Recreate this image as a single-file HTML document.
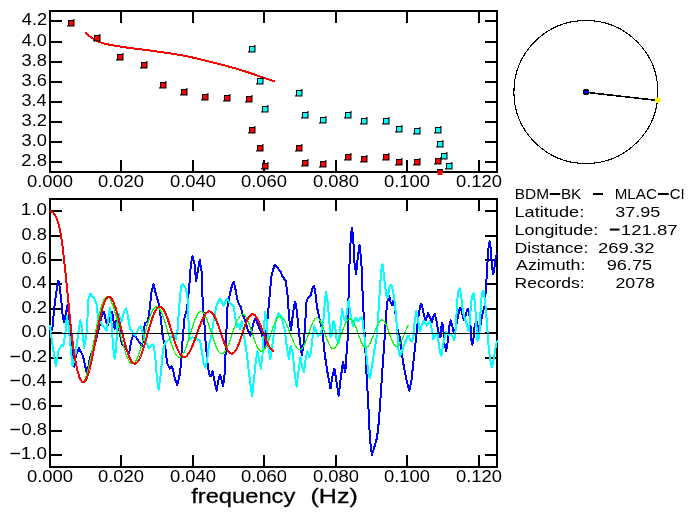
<!DOCTYPE html>
<html><head><meta charset="utf-8"><title>plot</title>
<style>html,body{margin:0;padding:0;background:#fff;overflow:hidden}svg{display:block;will-change:transform}</style>
</head><body>
<svg width="693" height="519" viewBox="0 0 693 519" font-family="'Liberation Sans', sans-serif" fill="#000">
<rect width="693" height="519" fill="#fff"/>
<rect x="49" y="10" width="449" height="2" fill="#000"/>
<rect x="49" y="171" width="449" height="2" fill="#000"/>
<rect x="49" y="10" width="2" height="163" fill="#000"/>
<rect x="496" y="10" width="2" height="163" fill="#000"/>
<rect x="120" y="12" width="2" height="11" fill="#000"/>
<rect x="120" y="160" width="2" height="11" fill="#000"/>
<rect x="192" y="12" width="2" height="11" fill="#000"/>
<rect x="192" y="160" width="2" height="11" fill="#000"/>
<rect x="263" y="12" width="2" height="11" fill="#000"/>
<rect x="263" y="160" width="2" height="11" fill="#000"/>
<rect x="335" y="12" width="2" height="11" fill="#000"/>
<rect x="335" y="160" width="2" height="11" fill="#000"/>
<rect x="406" y="12" width="2" height="11" fill="#000"/>
<rect x="406" y="160" width="2" height="11" fill="#000"/>
<rect x="478" y="12" width="2" height="11" fill="#000"/>
<rect x="478" y="160" width="2" height="11" fill="#000"/>
<rect x="51" y="20" width="11" height="2" fill="#000"/>
<rect x="485" y="20" width="11" height="2" fill="#000"/>
<rect x="51" y="41" width="11" height="2" fill="#000"/>
<rect x="485" y="41" width="11" height="2" fill="#000"/>
<rect x="51" y="61" width="11" height="2" fill="#000"/>
<rect x="485" y="61" width="11" height="2" fill="#000"/>
<rect x="51" y="81" width="11" height="2" fill="#000"/>
<rect x="485" y="81" width="11" height="2" fill="#000"/>
<rect x="51" y="101" width="11" height="2" fill="#000"/>
<rect x="485" y="101" width="11" height="2" fill="#000"/>
<rect x="51" y="121" width="11" height="2" fill="#000"/>
<rect x="485" y="121" width="11" height="2" fill="#000"/>
<rect x="51" y="141" width="11" height="2" fill="#000"/>
<rect x="485" y="141" width="11" height="2" fill="#000"/>
<rect x="51" y="161" width="11" height="2" fill="#000"/>
<rect x="485" y="161" width="11" height="2" fill="#000"/>
<rect x="49" y="198" width="449" height="2" fill="#000"/>
<rect x="49" y="466" width="449" height="2" fill="#000"/>
<rect x="49" y="198" width="2" height="270" fill="#000"/>
<rect x="496" y="198" width="2" height="270" fill="#000"/>
<rect x="120" y="200" width="2" height="11" fill="#000"/>
<rect x="120" y="455" width="2" height="11" fill="#000"/>
<rect x="192" y="200" width="2" height="11" fill="#000"/>
<rect x="192" y="455" width="2" height="11" fill="#000"/>
<rect x="263" y="200" width="2" height="11" fill="#000"/>
<rect x="263" y="455" width="2" height="11" fill="#000"/>
<rect x="335" y="200" width="2" height="11" fill="#000"/>
<rect x="335" y="455" width="2" height="11" fill="#000"/>
<rect x="406" y="200" width="2" height="11" fill="#000"/>
<rect x="406" y="455" width="2" height="11" fill="#000"/>
<rect x="478" y="200" width="2" height="11" fill="#000"/>
<rect x="478" y="455" width="2" height="11" fill="#000"/>
<rect x="51" y="210" width="11" height="2" fill="#000"/>
<rect x="485" y="210" width="11" height="2" fill="#000"/>
<rect x="51" y="235" width="11" height="2" fill="#000"/>
<rect x="485" y="235" width="11" height="2" fill="#000"/>
<rect x="51" y="259" width="11" height="2" fill="#000"/>
<rect x="485" y="259" width="11" height="2" fill="#000"/>
<rect x="51" y="283" width="11" height="2" fill="#000"/>
<rect x="485" y="283" width="11" height="2" fill="#000"/>
<rect x="51" y="308" width="11" height="2" fill="#000"/>
<rect x="485" y="308" width="11" height="2" fill="#000"/>
<rect x="51" y="332" width="11" height="2" fill="#000"/>
<rect x="485" y="332" width="11" height="2" fill="#000"/>
<rect x="51" y="357" width="11" height="2" fill="#000"/>
<rect x="485" y="357" width="11" height="2" fill="#000"/>
<rect x="51" y="381" width="11" height="2" fill="#000"/>
<rect x="485" y="381" width="11" height="2" fill="#000"/>
<rect x="51" y="405" width="11" height="2" fill="#000"/>
<rect x="485" y="405" width="11" height="2" fill="#000"/>
<rect x="51" y="430" width="11" height="2" fill="#000"/>
<rect x="485" y="430" width="11" height="2" fill="#000"/>
<rect x="51" y="454" width="11" height="2" fill="#000"/>
<rect x="485" y="454" width="11" height="2" fill="#000"/>
<polyline points="50.0,332.0 52.3,330.0 54.0,310.5 55.8,295.4 58.3,280.6 59.8,287.3 61.2,300.0 62.7,316.2 64.1,322.6 65.6,315.1 67.6,304.7 69.0,316.0 70.8,331.6 72.5,354.7 74.3,366.8 76.0,354.7 78.9,348.3 82.9,355.8 87.0,374.3 89.9,358.2 91.6,352.4 96.2,339.7 99.7,324.6 101.5,317.0 104.0,311.5 105.5,319.0 107.4,326.6 110.0,318.0 112.2,311.5 113.3,320.0 114.7,328.6 116.9,318.4 118.2,324.0 119.5,330.5 120.9,340.0 122.2,344.3 126.5,349.5 129.1,353.0 131.2,340.8 133.4,333.9 136.0,337.3 139.5,342.5 142.1,346.0 143.6,334.0 144.8,323.2 147.6,321.6 148.9,315.0 150.4,302.0 151.4,292.5 153.4,283.9 156.0,294.3 158.6,303.0 160.8,318.0 162.8,337.3 165.4,347.7 167.1,363.4 169.7,368.6 171.5,366.0 173.2,370.3 174.9,379.0 177.2,385.0 179.3,377.2 180.7,366.8 181.4,354.7 182.7,338.5 184.5,317.6 187.1,309.0 189.7,281.2 190.9,263.9 192.6,256.1 194.5,263.9 196.1,281.2 197.8,270.8 199.7,259.5 201.5,270.8 202.7,302.0 204.4,323.0 205.3,338.5 206.7,354.7 207.9,366.8 209.6,375.5 210.8,376.4 212.6,371.2 214.0,379.0 216.6,390.7 218.3,380.7 220.0,374.6 221.8,380.7 223.1,385.9 224.4,377.2 225.2,363.4 226.1,338.5 227.5,307.2 229.6,295.1 232.2,284.7 233.9,282.1 235.6,289.9 237.9,302.0 240.8,307.2 242.6,314.2 245.2,321.1 247.8,329.8 250.4,335.8 253.0,324.6 255.2,318.5 257.3,322.8 260.8,331.5 263.4,340.0 264.2,347.7 266.0,335.0 267.5,319.4 269.0,302.0 271.5,276.0 274.5,264.7 277.1,267.3 280.6,271.7 282.3,276.0 285.8,281.2 287.5,295.1 289.3,319.4 291.0,330.6 292.7,315.9 294.8,301.7 296.2,305.5 297.9,322.0 299.7,338.5 301.8,355.5 304.0,340.4 305.4,319.7 306.6,300.3 308.3,297.7 310.4,296.0 312.2,289.0 313.9,285.5 315.3,291.6 317.0,307.2 319.6,319.4 321.4,326.3 323.1,338.5 324.8,354.7 327.4,372.0 330.5,388.5 332.6,375.5 334.4,368.6 336.1,379.0 338.7,395.9 340.4,380.7 343.0,361.6 345.3,372.0 346.5,354.7 347.7,338.5 348.4,302.0 349.3,268.0 350.9,234.7 352.1,227.7 353.3,239.9 354.7,265.9 356.1,273.7 357.8,257.2 359.5,245.1 361.3,260.7 362.3,287.0 363.5,312.0 364.7,336.0 366.4,372.0 368.2,402.0 369.4,428.1 370.6,445.5 372.0,455.0 373.8,449.0 376.4,440.3 378.1,429.9 379.6,410.5 381.1,389.4 382.8,363.4 384.5,340.4 385.8,319.7 387.1,302.0 389.2,296.0 390.6,302.0 392.0,305.5 393.2,301.2 394.4,305.5 396.2,319.4 397.9,331.5 400.1,338.0 402.7,359.9 406.2,379.0 409.3,390.7 411.4,380.7 413.1,365.1 415.2,346.0 417.0,328.0 418.7,314.2 420.4,305.5 421.5,303.8 422.7,309.0 424.2,316.0 425.7,320.0 427.0,316.0 428.2,313.2 430.0,317.6 432.0,322.0 433.4,317.0 434.8,313.8 436.6,321.1 438.3,331.5 440.5,337.3 441.5,326.0 442.3,322.5 443.3,329.0 444.5,344.0 446.2,351.0 447.6,342.0 448.7,331.6 449.8,323.5 450.8,320.3 452.1,325.0 453.3,331.0 454.6,334.5 455.6,328.0 457.3,319.7 459.1,310.5 460.4,307.8 462.0,312.6 463.7,319.6 465.4,316.0 467.2,309.9 468.3,308.8 469.5,315.5 470.5,326.0 471.2,339.0 472.4,344.7 473.7,337.0 474.5,327.0 475.3,324.0 476.6,321.0 477.8,330.0 478.5,331.6 479.3,326.0 480.0,329.0 481.0,321.0 482.8,312.8 484.5,305.8 485.3,297.7 486.2,283.9 487.0,272.0 487.6,260.5 488.6,246.6 489.7,241.4 490.9,250.1 492.0,266.2 493.2,274.3 494.6,266.2 495.7,257.0 497.2,253.5" fill="none" stroke="#0000ff" stroke-width="2" stroke-linejoin="round" stroke-linecap="round" shape-rendering="crispEdges"/>
<polyline points="50.0,326.0 51.7,339.7 55.8,366.2 58.7,350.1 61.6,344.9 63.3,346.0 65.6,331.6 66.8,316.2 68.5,325.0 70.2,343.1 72.5,366.2 74.9,358.2 77.7,337.3 80.3,320.3 81.8,325.8 84.1,347.7 87.0,331.0 88.2,300.0 90.5,293.7 94.5,298.9 96.8,304.7 98.0,318.6 100.0,322.0 103.0,326.0 106.5,331.0 108.4,318.0 109.8,307.8 111.3,320.0 113.0,345.0 114.6,358.7 116.1,348.9 117.3,326.0 118.0,313.5 119.0,314.0 121.4,322.3 124.0,312.0 126.2,308.3 128.0,316.0 129.5,326.0 130.5,329.5 132.6,332.1 135.2,335.6 137.8,330.4 140.4,326.1 142.1,330.4 145.6,340.8 149.0,348.6 151.1,346.0 153.4,344.3 155.1,354.7 156.8,377.2 158.6,389.8 161.0,372.0 163.0,350.0 165.2,343.0 169.7,339.1 173.2,334.7 175.8,339.1 177.5,330.0 179.3,305.0 181.0,286.4 182.7,283.8 185.3,287.3 187.1,293.3 188.3,307.2 188.8,339.9 192.3,337.3 196.6,339.1 200.1,340.8 201.8,351.2 203.6,363.4 205.3,367.7 207.0,361.6 208.8,346.0 211.5,335.0 213.5,322.0 216.6,305.5 220.0,298.6 223.5,305.5 227.0,298.6 230.4,303.8 233.9,307.2 235.6,319.4 236.8,327.0 238.2,323.5 240.0,328.7 241.7,321.5 243.4,333.0 244.3,337.3 246.9,354.7 249.5,377.2 252.1,396.3 253.8,380.7 255.6,363.4 257.3,351.2 259.0,359.9 260.8,368.6 262.5,354.7 263.7,333.0 265.1,311.6 266.7,320.0 268.3,346.0 270.3,359.0 272.4,345.0 274.5,330.4 275.8,320.0 278.5,313.3 280.6,315.9 282.5,321.0 284.9,331.0 286.7,346.0 288.9,359.0 290.7,346.0 292.7,352.9 294.5,372.0 296.6,386.8 298.8,368.6 300.5,357.3 302.3,366.8 304.0,372.0 305.7,358.1 307.5,351.2 309.2,357.3 311.0,352.9 312.3,339.0 314.4,326.5 316.2,331.0 317.9,336.2 320.0,335.0 322.4,327.0 323.5,319.4 324.8,302.0 326.0,291.6 327.4,300.3 329.2,319.4 330.5,337.0 331.8,335.6 333.5,321.1 335.2,326.3 336.1,338.5 338.7,342.5 340.4,327.0 342.2,309.0 343.9,319.4 345.6,321.1 347.4,309.0 348.6,300.3 350.0,311.0 351.5,319.5 352.9,325.8 354.3,321.0 355.8,317.7 358.1,321.2 360.0,318.0 361.6,317.2 362.8,321.0 363.8,331.5 364.7,338.5 366.4,354.7 368.2,372.0 369.9,378.1 371.6,368.6 374.2,351.2 376.5,338.5 378.0,319.7 379.6,293.3 381.2,270.8 382.5,263.9 383.8,274.6 384.9,284.0 386.3,295.1 387.5,297.7 389.7,286.4 391.5,284.7 393.2,291.6 394.9,303.8 396.2,318.0 397.4,333.5 398.6,351.2 400.1,356.4 401.9,351.2 404.5,344.3 407.1,337.3 408.8,335.6 410.5,340.8 412.3,341.5 413.6,335.0 414.6,322.0 416.3,310.7 417.8,318.0 419.0,326.0 420.0,331.3 421.8,325.0 423.8,320.7 426.9,325.7 429.4,321.3 431.3,326.3 433.2,338.9 436.3,333.8 437.6,333.0 438.8,344.3 440.1,353.5 441.4,355.8 443.2,345.1 445.7,332.0 447.2,333.5 448.7,335.3 451.0,334.0 452.7,337.3 454.2,340.3 455.5,331.0 456.4,316.2 457.3,299.9 458.5,290.8 459.7,288.5 460.9,293.5 462.1,304.7 463.1,312.9 464.7,318.0 466.2,322.5 467.7,327.5 468.7,331.5 469.8,323.0 470.6,309.0 471.5,300.0 472.6,294.3 473.7,293.5 474.7,301.0 475.8,313.9 476.5,327.0 477.6,340.8 479.1,337.3 479.9,327.0 480.6,310.0 481.3,300.0 482.2,293.1 483.4,290.8 484.5,296.6 485.7,308.2 486.6,319.3 487.5,331.0 488.8,348.9 490.3,360.5 492.0,367.4 493.4,360.5 494.9,351.2 496.4,343.1 497.5,340.8" fill="none" stroke="#00ffff" stroke-width="2" stroke-linejoin="round" stroke-linecap="round" shape-rendering="crispEdges"/>
<polyline points="83.0,382.1 84.0,380.9 85.0,379.1 86.0,376.5 87.0,373.4 88.0,369.7 89.0,365.6 90.0,361.0 91.0,356.2 92.0,351.1 93.0,345.8 94.0,340.5 95.0,335.2 96.0,330.0 97.0,324.9 98.0,320.1 99.0,315.6 100.0,311.5 101.0,307.9 102.0,304.6 103.0,302.0 104.0,299.8 105.0,298.2 106.0,297.3 107.0,296.8 108.0,297.0 109.0,297.8 110.0,299.0 111.0,300.8 112.0,303.1 113.0,305.8 114.0,308.8 115.0,312.2 116.0,315.9 117.0,319.8 118.0,323.8 119.0,327.9 120.0,332.0 121.0,336.1 122.0,340.2 123.0,344.0 124.0,347.7 125.0,351.0 126.0,354.1 127.0,356.8 128.0,359.1 129.0,361.0 130.0,362.4 131.0,363.3 132.0,363.8 133.0,363.7 134.0,363.2 135.0,362.2 136.0,360.7 137.0,358.8 138.0,356.5 139.0,353.8 140.0,350.8 141.0,347.6 142.0,344.1 143.0,340.5 144.0,336.8 145.0,333.1 146.0,329.5 147.0,325.9 148.0,322.5 149.0,319.3 150.0,316.4 151.0,313.8 152.0,311.5 153.0,309.7 154.0,308.3 155.0,307.3 156.0,306.9 157.0,306.9 158.0,307.3 159.0,308.3 160.0,309.7 161.0,311.5 162.0,313.7 163.0,316.3 164.0,319.1 165.0,322.2 166.0,325.5 167.0,328.9 168.0,332.4 169.0,335.9 170.0,339.3 171.0,342.5 172.0,345.6 173.0,348.4 174.0,350.9 175.0,353.0 176.0,354.8 177.0,356.1 178.0,356.9 179.0,357.3 180.0,357.2 181.0,356.7 182.0,355.6 183.0,354.1 184.0,352.3 185.0,350.0 186.0,347.4 187.0,344.5 188.0,341.5 189.0,338.2 190.0,334.9 191.0,331.6 192.0,328.4 193.0,325.2 194.0,322.3 195.0,319.6 196.0,317.2 197.0,315.2 198.0,313.6 199.0,312.4 200.0,311.7 201.0,311.5 202.0,311.7 203.0,312.4 204.0,313.6 205.0,315.2 206.0,317.2 207.0,319.6 208.0,322.3 209.0,325.2 210.0,328.3 211.0,331.4 212.0,334.7 213.0,337.8 214.0,340.8 215.0,343.7 216.0,346.3 217.0,348.5 218.0,350.5 219.0,352.0 220.0,353.0 221.0,353.6 222.0,353.8 223.0,353.4 224.0,352.7 225.0,351.5 226.0,349.9 227.0,348.0 228.0,345.7 229.0,343.2 230.0,340.5 231.0,337.7 232.0,334.7 233.0,331.8 234.0,328.9 235.0,326.1 236.0,323.5 237.0,321.1 238.0,319.0 239.0,317.3 240.0,315.9 241.0,314.9 242.0,314.4 243.0,314.3 244.0,314.8 245.0,315.7 246.0,317.1 247.0,318.8 248.0,321.0 249.0,323.6 250.0,326.3 251.0,329.3 252.0,332.4 253.0,335.5 254.0,338.5 255.0,341.3 256.0,344.0 257.0,346.3 258.0,348.2 259.0,349.7 260.0,350.8 261.0,351.3 262.0,351.4 263.0,350.9 264.0,350.0 265.0,348.6 266.0,346.8 267.0,344.6 268.0,342.1 269.0,339.3 270.0,336.4 271.0,333.5 272.0,330.5 273.0,327.7 274.0,325.0 275.0,322.6 276.0,320.5 277.0,318.8 278.0,317.5 279.0,316.7 280.0,316.3 281.0,316.4 282.0,316.9 283.0,317.9 284.0,319.3 285.0,321.0 286.0,323.0 287.0,325.2 288.0,327.7 289.0,330.2 290.0,332.9 291.0,335.5 292.0,338.1 293.0,340.6 294.0,342.9 295.0,344.9 296.0,346.7 297.0,348.1 298.0,349.1 299.0,349.6 300.0,349.7 301.0,349.3 302.0,348.5 303.0,347.1 304.0,345.4 305.0,343.3 306.0,340.8 307.0,338.1 308.0,335.2 309.0,332.3 310.0,329.4 311.0,326.7 312.0,324.2 313.0,322.0 314.0,320.2 315.0,318.8 316.0,318.0 317.0,317.7 318.0,318.0 319.0,318.9 320.0,320.3 321.0,322.2 322.0,324.5 323.0,327.2 324.0,330.1 325.0,333.2 326.0,336.2 327.0,339.1 328.0,341.8 329.0,344.1 330.0,346.0 331.0,347.4 332.0,348.2 333.0,348.5 334.0,348.2 335.0,347.4 336.0,346.2 337.0,344.5 338.0,342.4 339.0,340.1 340.0,337.6 341.0,334.9 342.0,332.2 343.0,329.6 344.0,327.1 345.0,324.8 346.0,322.8 347.0,321.1 348.0,319.9 349.0,319.1 350.0,318.9 351.0,319.1 352.0,319.9 353.0,321.2 354.0,323.0 355.0,325.2 356.0,327.7 357.0,330.4 358.0,333.2 359.0,336.1 360.0,338.8 361.0,341.3 362.0,343.4 363.0,345.2 364.0,346.5 365.0,347.2 366.0,347.4 367.0,347.1 368.0,346.3 369.0,345.0 370.0,343.2 371.0,341.2 372.0,338.8 373.0,336.3 374.0,333.6 375.0,331.0 376.0,328.4 377.0,326.0 378.0,323.9 379.0,322.2 380.0,320.9 381.0,320.1 382.0,319.8 383.0,320.1 384.0,320.9 385.0,322.4 386.0,324.3 387.0,326.7 388.0,329.4 389.0,332.3 390.0,335.2 391.0,338.0 392.0,340.6 393.0,342.8 394.0,344.6 395.0,345.8 396.0,346.5 397.0,346.6 398.0,346.1 399.0,345.2 400.0,343.8 401.0,342.0 402.0,339.9 403.0,337.5 404.0,335.1 405.0,332.6 406.0,330.1 407.0,327.8 408.0,325.7" fill="none" stroke="#00ff00" stroke-width="1.2" stroke-linejoin="round" stroke-linecap="round" shape-rendering="crispEdges"/>
<polyline points="50.5,211.5 51.5,211.6 52.5,212.1 53.5,212.9 54.5,214.2 55.5,215.9 56.5,218.1 57.5,220.8 58.5,224.1 59.5,228.0 60.5,232.7 61.5,238.6 62.5,246.0 63.5,254.5 64.5,263.8 65.5,273.2 66.5,282.8 67.5,292.8 68.5,303.1 69.5,313.7 70.5,324.0 71.5,333.3 72.5,341.5 73.5,348.8 74.5,355.4 75.5,361.2 76.5,366.3 77.5,370.7 78.5,374.3 79.5,377.3 80.5,379.6 81.5,381.2 82.5,382.1 83.5,382.4 84.5,381.9 85.5,380.6 86.5,378.7 87.5,376.2 88.5,373.1 89.5,369.5 90.5,365.4 91.5,360.9 92.5,356.1 93.5,351.0 94.5,345.9 95.5,340.6 96.5,335.3 97.5,330.2 98.5,325.1 99.5,320.4 100.5,315.9 101.5,311.8 102.5,308.1 103.5,304.9 104.5,302.2 105.5,300.0 106.5,298.3 107.5,297.3 108.5,296.8 109.5,296.8 110.5,297.4 111.5,298.5 112.5,300.2 113.5,302.2 114.5,304.7 115.5,307.6 116.5,310.8 117.5,314.3 118.5,318.0 119.5,321.8 120.5,325.8 121.5,329.8 122.5,333.9 123.5,337.8 124.5,341.7 125.5,345.3 126.5,348.8 127.5,352.0 128.5,354.8 129.5,357.3 130.5,359.5 131.5,361.2 132.5,362.5 133.5,363.3 134.5,363.7 135.5,363.6 136.5,363.1 137.5,362.0 138.5,360.6 139.5,358.8 140.5,356.5 141.5,354.0 142.5,351.1 143.5,348.0 144.5,344.7 145.5,341.3 146.5,337.7 147.5,334.1 148.5,330.6 149.5,327.1 150.5,323.7 151.5,320.6 152.5,317.6 153.5,315.0 154.5,312.6 155.5,310.6 156.5,309.0 157.5,307.8 158.5,307.1 159.5,306.7 160.5,306.8 161.5,307.3 162.5,308.3 163.5,309.6 164.5,311.3 165.5,313.4 166.5,315.8 167.5,318.5 168.5,321.4 169.5,324.5 170.5,327.7 171.5,331.0 172.5,334.3 173.5,337.5 174.5,340.7 175.5,343.7 176.5,346.4 177.5,349.0 178.5,351.2 179.5,353.1 180.5,354.7 181.5,355.9 182.5,356.7 183.5,357.2 184.5,357.2 185.5,356.9 186.5,356.2 187.5,355.1 188.5,353.7 189.5,352.1 190.5,350.1 191.5,347.9 192.5,345.6 193.5,343.0 194.5,340.4 195.5,337.6 196.5,334.8 197.5,332.0 198.5,329.3 199.5,326.6 200.5,324.0 201.5,321.6 202.5,319.3 203.5,317.3 204.5,315.5 205.5,314.0 206.5,312.8 207.5,312.0 208.5,311.5 209.5,311.4 210.5,311.6 211.5,312.3 212.5,313.3 213.5,314.7 214.5,316.4 215.5,318.5 216.5,320.8 217.5,323.3 218.5,326.1 219.5,328.9 220.5,331.9 221.5,334.8 222.5,337.8 223.5,340.6 224.5,343.3 225.5,345.7 226.5,347.9 227.5,349.8 228.5,351.4 229.5,352.5 230.5,353.3 231.5,353.7 232.5,353.6 233.5,353.0 234.5,352.1 235.5,350.7 236.5,349.0 237.5,346.9 238.5,344.4 239.5,341.8 240.5,338.9 241.5,336.0 242.5,332.9 243.5,329.9 244.5,327.0 245.5,324.3 246.5,321.8 247.5,319.6 248.5,317.7 249.5,316.2 250.5,315.1 251.5,314.5 252.5,314.2 253.5,314.4 254.5,314.9 255.5,315.9 256.5,317.2 257.5,318.9 258.5,320.9 259.5,323.1 260.5,325.5 261.5,328.1 262.5,330.7 263.5,333.4 264.5,336.0 265.5,338.6 266.5,341.1 267.5,343.4 268.5,345.4 269.5,347.2 270.5,348.7 271.5,349.9 272.5,350.7 273.5,351.2" fill="none" stroke="#ff0000" stroke-width="2" stroke-linejoin="round" stroke-linecap="round" shape-rendering="crispEdges"/>
<rect x="51" y="333" width="445" height="1" fill="#000"/>
<polyline points="85.9,32.9 86.9,33.9 87.9,34.8 88.9,35.6 89.9,36.4 90.9,37.1 91.9,37.8 92.9,38.5 93.9,39.1 94.9,39.6 95.9,40.2 96.9,40.7 97.9,41.2 98.9,41.7 99.9,42.1 100.9,42.5 101.9,42.8 102.9,43.1 103.9,43.4 104.9,43.7 105.9,43.9 106.9,44.2 107.9,44.4 108.9,44.6 109.9,44.8 110.9,45.0 111.9,45.2 112.9,45.4 113.9,45.5 114.9,45.7 115.9,45.9 116.9,46.0 117.9,46.2 118.9,46.4 119.9,46.5 120.9,46.7 121.9,46.8 122.9,47.0 123.9,47.1 124.9,47.3 125.9,47.4 126.9,47.6 127.9,47.7 128.9,47.8 129.9,48.0 130.9,48.1 131.9,48.2 132.9,48.4 133.9,48.5 134.9,48.6 135.9,48.7 136.9,48.9 137.9,49.0 138.9,49.1 139.9,49.3 140.9,49.4 141.9,49.5 142.9,49.6 143.9,49.8 144.9,49.9 145.9,50.0 146.9,50.1 147.9,50.3 148.9,50.4 149.9,50.5 150.9,50.6 151.9,50.8 152.9,50.9 153.9,51.0 154.9,51.2 155.9,51.3 156.9,51.5 157.9,51.6 158.9,51.8 159.9,51.9 160.9,52.1 161.9,52.2 162.9,52.4 163.9,52.5 164.9,52.7 165.9,52.8 166.9,52.9 167.9,53.1 168.9,53.2 169.9,53.4 170.9,53.5 171.9,53.7 172.9,53.8 173.9,54.0 174.9,54.1 175.9,54.3 176.9,54.5 177.9,54.6 178.9,54.8 179.9,55.0 180.9,55.2 181.9,55.4 182.9,55.5 183.9,55.7 184.9,55.9 185.9,56.1 186.9,56.3 187.9,56.5 188.9,56.8 189.9,57.0 190.9,57.2 191.9,57.4 192.9,57.6 193.9,57.8 194.9,58.1 195.9,58.3 196.9,58.5 197.9,58.7 198.9,59.0 199.9,59.2 200.9,59.5 201.9,59.7 202.9,60.0 203.9,60.2 204.9,60.5 205.9,60.7 206.9,61.0 207.9,61.3 208.9,61.5 209.9,61.8 210.9,62.0 211.9,62.3 212.9,62.5 213.9,62.8 214.9,63.0 215.9,63.3 216.9,63.5 217.9,63.8 218.9,64.0 219.9,64.3 220.9,64.5 221.9,64.7 222.9,65.0 223.9,65.2 224.9,65.5 225.9,65.8 226.9,66.0 227.9,66.3 228.9,66.6 229.9,66.8 230.9,67.1 231.9,67.4 232.9,67.7 233.9,68.0 234.9,68.2 235.9,68.5 236.9,68.8 237.9,69.1 238.9,69.4 239.9,69.7 240.9,70.0 241.9,70.4 242.9,70.7 243.9,71.0 244.9,71.3 245.9,71.6 246.9,71.9 247.9,72.3 248.9,72.6 249.9,72.9 250.9,73.3 251.9,73.6 252.9,74.0 253.9,74.3 254.9,74.7 255.9,75.0 256.9,75.4 257.9,75.7 258.9,76.1 259.9,76.5 260.9,76.8 261.9,77.2 262.9,77.5 263.9,77.8 264.9,78.2 265.9,78.5 266.9,78.8 267.9,79.2 268.9,79.5 269.9,79.8 270.9,80.1 271.9,80.4 272.9,80.8 273.9,81.1" fill="none" stroke="#ff0000" stroke-width="2" stroke-linejoin="round" stroke-linecap="round" shape-rendering="crispEdges"/>
<rect x="68" y="20" width="6.5" height="6.5" fill="#000"/>
<rect x="67" y="25.3" width="1" height="1.2" fill="#000"/>
<rect x="73.3" y="19" width="1.2" height="1" fill="#000"/>
<rect x="69" y="21" width="4.4" height="4.4" fill="#ff0000"/>
<rect x="94" y="35" width="6.5" height="6.5" fill="#000"/>
<rect x="93" y="40.3" width="1" height="1.2" fill="#000"/>
<rect x="99.3" y="34" width="1.2" height="1" fill="#000"/>
<rect x="95" y="36" width="4.4" height="4.4" fill="#ff0000"/>
<rect x="117" y="54" width="6.5" height="6.5" fill="#000"/>
<rect x="116" y="59.3" width="1" height="1.2" fill="#000"/>
<rect x="122.3" y="53" width="1.2" height="1" fill="#000"/>
<rect x="118" y="55" width="4.4" height="4.4" fill="#ff0000"/>
<rect x="141" y="62" width="6.5" height="6.5" fill="#000"/>
<rect x="140" y="67.3" width="1" height="1.2" fill="#000"/>
<rect x="146.3" y="61" width="1.2" height="1" fill="#000"/>
<rect x="142" y="63" width="4.4" height="4.4" fill="#ff0000"/>
<rect x="160" y="82" width="6.5" height="6.5" fill="#000"/>
<rect x="159" y="87.3" width="1" height="1.2" fill="#000"/>
<rect x="165.3" y="81" width="1.2" height="1" fill="#000"/>
<rect x="161" y="83" width="4.4" height="4.4" fill="#ff0000"/>
<rect x="181" y="89" width="6.5" height="6.5" fill="#000"/>
<rect x="180" y="94.3" width="1" height="1.2" fill="#000"/>
<rect x="186.3" y="88" width="1.2" height="1" fill="#000"/>
<rect x="182" y="90" width="4.4" height="4.4" fill="#ff0000"/>
<rect x="202" y="94" width="6.5" height="6.5" fill="#000"/>
<rect x="201" y="99.3" width="1" height="1.2" fill="#000"/>
<rect x="207.3" y="93" width="1.2" height="1" fill="#000"/>
<rect x="203" y="95" width="4.4" height="4.4" fill="#ff0000"/>
<rect x="224" y="95" width="6.5" height="6.5" fill="#000"/>
<rect x="223" y="100.3" width="1" height="1.2" fill="#000"/>
<rect x="229.3" y="94" width="1.2" height="1" fill="#000"/>
<rect x="225" y="96" width="4.4" height="4.4" fill="#ff0000"/>
<rect x="246" y="96" width="6.5" height="6.5" fill="#000"/>
<rect x="245" y="101.3" width="1" height="1.2" fill="#000"/>
<rect x="251.3" y="95" width="1.2" height="1" fill="#000"/>
<rect x="247" y="97" width="4.4" height="4.4" fill="#ff0000"/>
<rect x="249" y="127" width="6.5" height="6.5" fill="#000"/>
<rect x="248" y="132.3" width="1" height="1.2" fill="#000"/>
<rect x="254.3" y="126" width="1.2" height="1" fill="#000"/>
<rect x="250" y="128" width="4.4" height="4.4" fill="#ff0000"/>
<rect x="257" y="145" width="6.5" height="6.5" fill="#000"/>
<rect x="256" y="150.3" width="1" height="1.2" fill="#000"/>
<rect x="262.3" y="144" width="1.2" height="1" fill="#000"/>
<rect x="258" y="146" width="4.4" height="4.4" fill="#ff0000"/>
<rect x="262" y="163" width="6.5" height="6.5" fill="#000"/>
<rect x="261" y="168.3" width="1" height="1.2" fill="#000"/>
<rect x="267.3" y="162" width="1.2" height="1" fill="#000"/>
<rect x="263" y="164" width="4.4" height="4.4" fill="#ff0000"/>
<rect x="296" y="145" width="6.5" height="6.5" fill="#000"/>
<rect x="295" y="150.3" width="1" height="1.2" fill="#000"/>
<rect x="301.3" y="144" width="1.2" height="1" fill="#000"/>
<rect x="297" y="146" width="4.4" height="4.4" fill="#ff0000"/>
<rect x="302" y="160" width="6.5" height="6.5" fill="#000"/>
<rect x="301" y="165.3" width="1" height="1.2" fill="#000"/>
<rect x="307.3" y="159" width="1.2" height="1" fill="#000"/>
<rect x="303" y="161" width="4.4" height="4.4" fill="#ff0000"/>
<rect x="320" y="161" width="6.5" height="6.5" fill="#000"/>
<rect x="319" y="166.3" width="1" height="1.2" fill="#000"/>
<rect x="325.3" y="160" width="1.2" height="1" fill="#000"/>
<rect x="321" y="162" width="4.4" height="4.4" fill="#ff0000"/>
<rect x="345" y="154" width="6.5" height="6.5" fill="#000"/>
<rect x="344" y="159.3" width="1" height="1.2" fill="#000"/>
<rect x="350.3" y="153" width="1.2" height="1" fill="#000"/>
<rect x="346" y="155" width="4.4" height="4.4" fill="#ff0000"/>
<rect x="361" y="156" width="6.5" height="6.5" fill="#000"/>
<rect x="360" y="161.3" width="1" height="1.2" fill="#000"/>
<rect x="366.3" y="155" width="1.2" height="1" fill="#000"/>
<rect x="362" y="157" width="4.4" height="4.4" fill="#ff0000"/>
<rect x="383" y="154" width="6.5" height="6.5" fill="#000"/>
<rect x="382" y="159.3" width="1" height="1.2" fill="#000"/>
<rect x="388.3" y="153" width="1.2" height="1" fill="#000"/>
<rect x="384" y="155" width="4.4" height="4.4" fill="#ff0000"/>
<rect x="396" y="159" width="6.5" height="6.5" fill="#000"/>
<rect x="395" y="164.3" width="1" height="1.2" fill="#000"/>
<rect x="401.3" y="158" width="1.2" height="1" fill="#000"/>
<rect x="397" y="160" width="4.4" height="4.4" fill="#ff0000"/>
<rect x="414" y="159" width="6.5" height="6.5" fill="#000"/>
<rect x="413" y="164.3" width="1" height="1.2" fill="#000"/>
<rect x="419.3" y="158" width="1.2" height="1" fill="#000"/>
<rect x="415" y="160" width="4.4" height="4.4" fill="#ff0000"/>
<rect x="435" y="158" width="6.5" height="6.5" fill="#000"/>
<rect x="434" y="163.3" width="1" height="1.2" fill="#000"/>
<rect x="440.3" y="157" width="1.2" height="1" fill="#000"/>
<rect x="436" y="159" width="4.4" height="4.4" fill="#ff0000"/>
<rect x="249" y="46" width="6.5" height="6.5" fill="#000"/>
<rect x="248" y="51.3" width="1" height="1.2" fill="#000"/>
<rect x="254.3" y="45" width="1.2" height="1" fill="#000"/>
<rect x="250" y="47" width="4.4" height="4.4" fill="#00ffff"/>
<rect x="257" y="78" width="6.5" height="6.5" fill="#000"/>
<rect x="256" y="83.3" width="1" height="1.2" fill="#000"/>
<rect x="262.3" y="77" width="1.2" height="1" fill="#000"/>
<rect x="258" y="79" width="4.4" height="4.4" fill="#00ffff"/>
<rect x="262" y="106" width="6.5" height="6.5" fill="#000"/>
<rect x="261" y="111.3" width="1" height="1.2" fill="#000"/>
<rect x="267.3" y="105" width="1.2" height="1" fill="#000"/>
<rect x="263" y="107" width="4.4" height="4.4" fill="#00ffff"/>
<rect x="296" y="90" width="6.5" height="6.5" fill="#000"/>
<rect x="295" y="95.3" width="1" height="1.2" fill="#000"/>
<rect x="301.3" y="89" width="1.2" height="1" fill="#000"/>
<rect x="297" y="91" width="4.4" height="4.4" fill="#00ffff"/>
<rect x="302" y="112" width="6.5" height="6.5" fill="#000"/>
<rect x="301" y="117.3" width="1" height="1.2" fill="#000"/>
<rect x="307.3" y="111" width="1.2" height="1" fill="#000"/>
<rect x="303" y="113" width="4.4" height="4.4" fill="#00ffff"/>
<rect x="320" y="117" width="6.5" height="6.5" fill="#000"/>
<rect x="319" y="122.3" width="1" height="1.2" fill="#000"/>
<rect x="325.3" y="116" width="1.2" height="1" fill="#000"/>
<rect x="321" y="118" width="4.4" height="4.4" fill="#00ffff"/>
<rect x="345" y="112" width="6.5" height="6.5" fill="#000"/>
<rect x="344" y="117.3" width="1" height="1.2" fill="#000"/>
<rect x="350.3" y="111" width="1.2" height="1" fill="#000"/>
<rect x="346" y="113" width="4.4" height="4.4" fill="#00ffff"/>
<rect x="361" y="118" width="6.5" height="6.5" fill="#000"/>
<rect x="360" y="123.3" width="1" height="1.2" fill="#000"/>
<rect x="366.3" y="117" width="1.2" height="1" fill="#000"/>
<rect x="362" y="119" width="4.4" height="4.4" fill="#00ffff"/>
<rect x="383" y="118" width="6.5" height="6.5" fill="#000"/>
<rect x="382" y="123.3" width="1" height="1.2" fill="#000"/>
<rect x="388.3" y="117" width="1.2" height="1" fill="#000"/>
<rect x="384" y="119" width="4.4" height="4.4" fill="#00ffff"/>
<rect x="396" y="126" width="6.5" height="6.5" fill="#000"/>
<rect x="395" y="131.3" width="1" height="1.2" fill="#000"/>
<rect x="401.3" y="125" width="1.2" height="1" fill="#000"/>
<rect x="397" y="127" width="4.4" height="4.4" fill="#00ffff"/>
<rect x="414" y="128" width="6.5" height="6.5" fill="#000"/>
<rect x="413" y="133.3" width="1" height="1.2" fill="#000"/>
<rect x="419.3" y="127" width="1.2" height="1" fill="#000"/>
<rect x="415" y="129" width="4.4" height="4.4" fill="#00ffff"/>
<rect x="435" y="127" width="6.5" height="6.5" fill="#000"/>
<rect x="434" y="132.3" width="1" height="1.2" fill="#000"/>
<rect x="440.3" y="126" width="1.2" height="1" fill="#000"/>
<rect x="436" y="128" width="4.4" height="4.4" fill="#00ffff"/>
<rect x="437" y="141" width="6.5" height="6.5" fill="#000"/>
<rect x="436" y="146.3" width="1" height="1.2" fill="#000"/>
<rect x="442.3" y="140" width="1.2" height="1" fill="#000"/>
<rect x="438" y="142" width="4.4" height="4.4" fill="#00ffff"/>
<rect x="441" y="153" width="6.5" height="6.5" fill="#000"/>
<rect x="440" y="158.3" width="1" height="1.2" fill="#000"/>
<rect x="446.3" y="152" width="1.2" height="1" fill="#000"/>
<rect x="442" y="154" width="4.4" height="4.4" fill="#00ffff"/>
<rect x="446" y="163" width="6.5" height="6.5" fill="#000"/>
<rect x="445" y="168.3" width="1" height="1.2" fill="#000"/>
<rect x="451.3" y="162" width="1.2" height="1" fill="#000"/>
<rect x="447" y="164" width="4.4" height="4.4" fill="#00ffff"/>
<rect x="437" y="169" width="6" height="2" fill="#000"/>
<rect x="437.5" y="170" width="5" height="5" fill="#ff0000"/>
<text transform="translate(26.95,186.50) scale(1.1175,1)" font-size="16.5">0.000</text>
<text transform="translate(26.95,481.50) scale(1.1175,1)" font-size="16.5">0.000</text>
<text transform="translate(97.95,186.50) scale(1.1175,1)" font-size="16.5">0.020</text>
<text transform="translate(97.95,481.50) scale(1.1175,1)" font-size="16.5">0.020</text>
<text transform="translate(169.95,186.50) scale(1.1175,1)" font-size="16.5">0.040</text>
<text transform="translate(169.95,481.50) scale(1.1175,1)" font-size="16.5">0.040</text>
<text transform="translate(240.95,186.50) scale(1.1175,1)" font-size="16.5">0.060</text>
<text transform="translate(240.95,481.50) scale(1.1175,1)" font-size="16.5">0.060</text>
<text transform="translate(312.95,186.50) scale(1.1175,1)" font-size="16.5">0.080</text>
<text transform="translate(312.95,481.50) scale(1.1175,1)" font-size="16.5">0.080</text>
<text transform="translate(383.95,186.50) scale(1.1175,1)" font-size="16.5">0.100</text>
<text transform="translate(383.95,481.50) scale(1.1175,1)" font-size="16.5">0.100</text>
<text transform="translate(455.95,186.50) scale(1.1175,1)" font-size="16.5">0.120</text>
<text transform="translate(455.95,481.50) scale(1.1175,1)" font-size="16.5">0.120</text>
<text transform="translate(21.79,24.50) scale(1.1034,1)" font-size="16.5">4.2</text>
<text transform="translate(21.79,45.50) scale(1.0971,1)" font-size="16.5">4.0</text>
<text transform="translate(21.51,65.50) scale(1.1098,1)" font-size="16.5">3.8</text>
<text transform="translate(21.51,85.50) scale(1.1098,1)" font-size="16.5">3.6</text>
<text transform="translate(21.51,105.50) scale(1.0971,1)" font-size="16.5">3.4</text>
<text transform="translate(21.50,125.50) scale(1.1163,1)" font-size="16.5">3.2</text>
<text transform="translate(21.51,145.50) scale(1.1098,1)" font-size="16.5">3.0</text>
<text transform="translate(21.22,165.50) scale(1.1228,1)" font-size="16.5">2.8</text>
<text transform="translate(20.77,214.50) scale(1.1429,1)" font-size="16.5">1.0</text>
<text transform="translate(21.51,239.50) scale(1.1098,1)" font-size="16.5">0.8</text>
<text transform="translate(21.51,263.50) scale(1.1098,1)" font-size="16.5">0.6</text>
<text transform="translate(21.51,287.50) scale(1.0971,1)" font-size="16.5">0.4</text>
<text transform="translate(21.50,312.50) scale(1.1163,1)" font-size="16.5">0.2</text>
<text transform="translate(21.51,336.50) scale(1.1098,1)" font-size="16.5">0.0</text>
<text transform="translate(21.50,361.50) scale(1.1163,1)" font-size="16.5">0.2</text>
<rect x="10.5" y="355.8" width="9.5" height="1.4" fill="#000"/>
<text transform="translate(21.51,385.50) scale(1.0971,1)" font-size="16.5">0.4</text>
<rect x="10.5" y="379.8" width="9.5" height="1.4" fill="#000"/>
<text transform="translate(21.51,409.50) scale(1.1098,1)" font-size="16.5">0.6</text>
<rect x="10.5" y="403.8" width="9.5" height="1.4" fill="#000"/>
<text transform="translate(21.51,434.50) scale(1.1098,1)" font-size="16.5">0.8</text>
<rect x="10.5" y="428.8" width="9.5" height="1.4" fill="#000"/>
<text transform="translate(20.77,458.50) scale(1.1429,1)" font-size="16.5">1.0</text>
<rect x="10.5" y="452.8" width="9.5" height="1.4" fill="#000"/>
<text transform="translate(191.20,503.00) scale(1.1857,1)" font-size="20" stroke="#000" stroke-width="0.25">frequency</text>
<text transform="translate(310.43,503.00) scale(1.2539,1)" font-size="20" stroke="#000" stroke-width="0.25">(Hz)</text>
<ellipse cx="585.9" cy="92" rx="72" ry="71.5" fill="none" stroke="#000" stroke-width="1.1" shape-rendering="crispEdges"/>
<line x1="586.2" y1="92.3" x2="657.3" y2="100.4" stroke="#000" stroke-width="1.6" shape-rendering="crispEdges"/>
<polygon points="584.3,89 587.8,89 589.1,90.3 589.1,93.7 587.8,95 584.3,95 583,93.7 583,90.3" fill="#000"/>
<rect x="584" y="91" width="4" height="2" fill="#0000ff"/>
<circle cx="657.6" cy="100.3" r="2.8" fill="#fff200"/>
<text transform="translate(514.71,199.30) scale(1.0300,1)" font-size="15">BDM</text>
<rect x="549.7" y="193" width="10.5" height="2" fill="#000"/>
<text transform="translate(560.93,199.30) scale(1.0162,1)" font-size="15">BK</text>
<rect x="593" y="193" width="10" height="2" fill="#000"/>
<text transform="translate(614.74,199.30) scale(1.0107,1)" font-size="15">MLAC</text>
<rect x="658" y="193" width="10.8" height="2" fill="#000"/>
<text transform="translate(669.65,199.30) scale(0.9942,1)" font-size="15">CI</text>
<text transform="translate(514.49,217.08) scale(1.2118,1)" font-size="15">Latitude:</text>
<text transform="translate(615.25,217.08) scale(1.2014,1)" font-size="15">37.95</text>
<text transform="translate(514.51,234.86) scale(1.1948,1)" font-size="15">Longitude:</text>
<rect x="609.8" y="228.56" width="9.8" height="2" fill="#000"/>
<text transform="translate(620.80,234.86) scale(1.2409,1)" font-size="15">121.87</text>
<text transform="translate(514.52,252.64) scale(1.1825,1)" font-size="15">Distance:</text>
<text transform="translate(598.08,252.64) scale(1.2304,1)" font-size="15">269.32</text>
<text transform="translate(516.00,270.42) scale(1.1903,1)" font-size="15">Azimuth:</text>
<text transform="translate(606.69,270.42) scale(1.2110,1)" font-size="15">96.75</text>
<text transform="translate(514.54,288.20) scale(1.1695,1)" font-size="15">Records:</text>
<text transform="translate(615.41,288.20) scale(1.1844,1)" font-size="15">2078</text>
</svg>
</body></html>
